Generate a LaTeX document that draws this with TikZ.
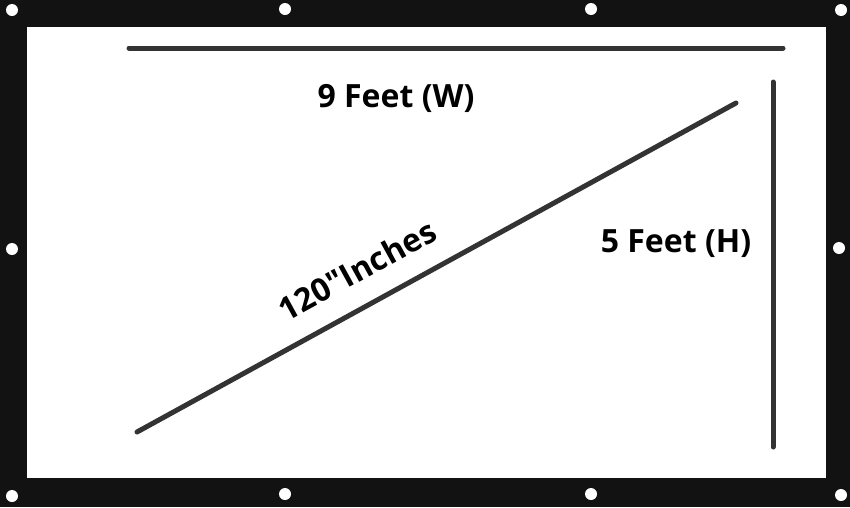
\documentclass[tikz,border=0pt]{standalone}
\usepackage{fontspec}
\setmainfont{Open Sans}
\newfontfamily\plainsans{Open Sans}[Ligatures=TeXOff]
\usetikzlibrary{positioning}
\tikzset{every node/.style={font=\normalfont}}

\begin{document}
\begin{tikzpicture}[x=1pt, y=-1pt, every node/.style={font=\plainsans\bfseries\fontsize{32}{38}\selectfont}]
    % Define styles
    \tikzstyle{frame} = [fill=black!93, draw=none]
    \tikzstyle{screen} = [fill=white, draw=none]
    \tikzstyle{grommet} = [circle, fill=white, draw=none, minimum size=12pt, inner sep=0pt]
    \tikzstyle{dimline} = [line width=5pt, draw=black!80, line cap=round]
    \tikzstyle{dimlabel} = [text=black, inner sep=0pt]

    % Black frame and white screen
    \useasboundingbox (0,0) rectangle (850,507);
    \path [frame] (0,0) rectangle (850,507);
    \path [screen] (27,27) rectangle (826,478);

    % Grommets on the frame
    \foreach \gx/\gy [count=\gi] in {12/10, 285/9, 591/9, 841/10, 12/496, 285/494, 591/494, 841/495, 12/249, 839/248}
        \node (grommet\gi) [grommet] at (\gx,\gy) {};

    % Dimension line ends
    \coordinate (wleft) at (129,48);
    \coordinate (wright) at (783,48);
    \coordinate (htop) at (773,82);
    \coordinate (hbottom) at (773,447);
    \coordinate (dlow) at (137,432);
    \coordinate (dhigh) at (736,103);

    % Dimension lines
    \draw [dimline] (wleft) -- (wright);
    \draw [dimline] (htop) -- (hbottom);
    \draw [dimline] (dlow) -- (dhigh);

    % Labels
    \node (width) [dimlabel] at (396,98) {9 Feet (W)};
    \node (height) [dimlabel] at (676,244) {5 Feet (H)};
    \node (diagonal) [dimlabel, rotate=28.8] at (357,270) {120"Inches};
\end{tikzpicture}
\end{document}
